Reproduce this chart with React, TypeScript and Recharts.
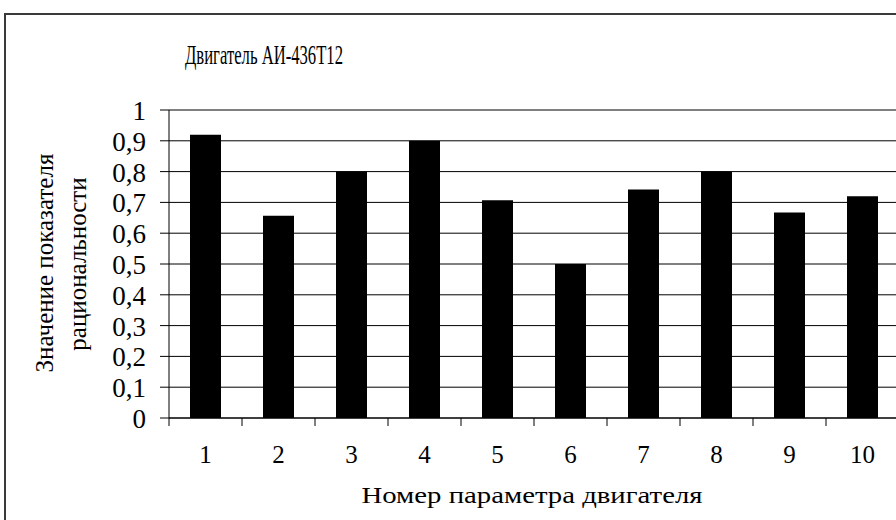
import React from 'react';
import { BarChart, Bar, XAxis, YAxis, CartesianGrid } from 'recharts';

const FONT = 'Liberation Serif, Times New Roman, DejaVu Serif, serif';

// Номера параметров и значения показателя рациональности
const categories = ['1', '2', '3', '4', '5', '6', '7', '8', '9', '10'];
const values = [0.92, 0.657, 0.8, 0.9, 0.707, 0.5, 0.742, 0.8, 0.667, 0.72];
const yTicks = [0, 0.1, 0.2, 0.3, 0.4, 0.5, 0.6, 0.7, 0.8, 0.9, 1];

const title = 'Двигатель АИ-436Т12';
const xTitle = 'Номер параметра двигателя';
const yTitle = ['Значение показателя', 'рациональности'];

const data = categories.map((name, i) => ({ name, value: values[i] }));

// подпись по оси X + засечка на границе категории
const XTick = ({ x, y, payload }: any) => {
  const half = payload && payload.offset ? payload.offset : 36.5;
  return (
    <g>
      <line x1={x - half} y1={y} x2={x - half} y2={y + 8} stroke="#000" />
      <text x={x} y={y + 45} textAnchor="middle" fill="#000" style={{ fontFamily: FONT, fontSize: 25 }}>
        {payload.value}
      </text>
    </g>
  );
};

const YTick = ({ x, y, payload }: any) => (
  <text x={x} y={y + 10} textAnchor="end" fill="#000" style={{ fontFamily: FONT, fontSize: 27 }}>
    {String(payload.value).replace('.', ',')}
  </text>
);

export default function App() {
  return (
    <div
      style={{
        position: 'absolute',
        left: 0,
        top: 0,
        width: 896,
        height: 520,
        overflow: 'hidden',
        background: '#fff',
        fontFamily: FONT,
      }}
    >
      <div
        style={{
          position: 'absolute',
          left: 4,
          top: 13,
          width: 1000,
          height: 700,
          border: '2px solid #3a3a3a',
        }}
      />
      <div style={{ position: 'absolute', left: 0, top: 0 }}>
        <BarChart width={904} height={520} data={data} margin={{ top: 110, right: 5, bottom: 0, left: 0 }}>
          <CartesianGrid vertical={false} stroke="#000" />
          <XAxis
            dataKey="name"
            height={102}
            interval={0}
            tickLine={false}
            tickSize={0}
            tickMargin={0}
            axisLine={{ stroke: '#000' }}
            tick={<XTick />}
          />
          <YAxis
            width={169}
            domain={[0, 1]}
            ticks={yTicks}
            interval={0}
            tickSize={9}
            tickMargin={14}
            axisLine={{ stroke: '#000' }}
            tickLine={{ stroke: '#000' }}
            tick={<YTick />}
          />
          <Bar dataKey="value" fill="#000" barSize={31} isAnimationActive={false} />
        </BarChart>
      </div>
      <svg
        width={896}
        height={520}
        style={{ position: 'absolute', left: 0, top: 0, pointerEvents: 'none', fontFamily: FONT }}
      >
        <text x={264} y={64} textAnchor="middle" fontSize={27} textLength={158} lengthAdjust="spacingAndGlyphs">
          {title}
        </text>
        <text x={532} y={503} textAnchor="middle" fontSize={24} textLength={341} lengthAdjust="spacingAndGlyphs">
          {xTitle}
        </text>
        <text transform="translate(53,263) rotate(-90)" textAnchor="middle" fontSize={25}>
          {yTitle[0]}
        </text>
        <text transform="translate(86,264) rotate(-90)" textAnchor="middle" fontSize={25}>
          {yTitle[1]}
        </text>
      </svg>
    </div>
  );
}
